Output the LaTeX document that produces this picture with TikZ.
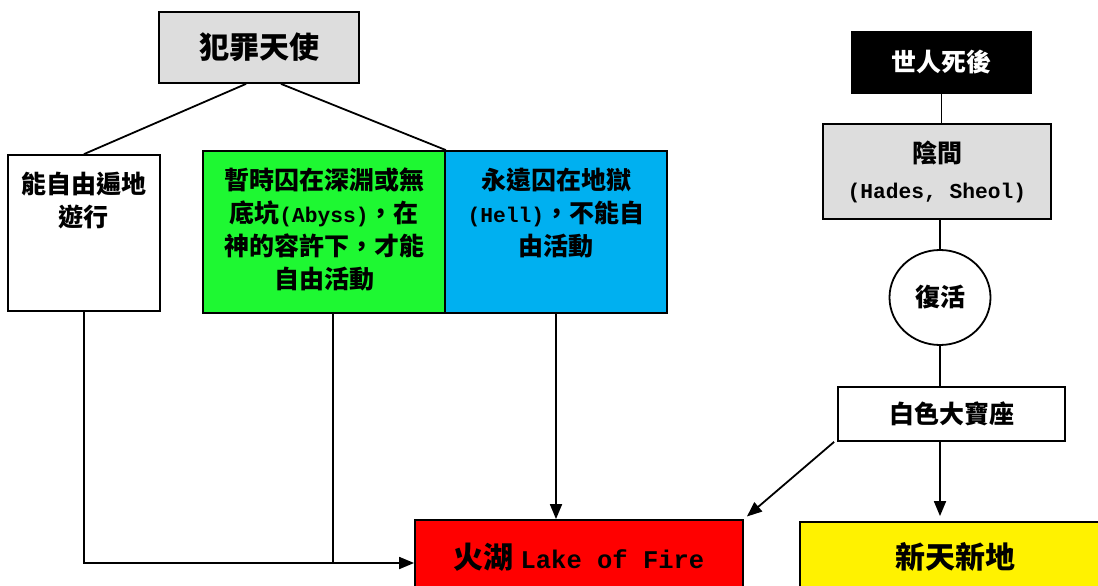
\documentclass[tikz,border=0pt]{standalone}
\usepackage{fontspec}
\setmainfont{Noto Sans CJK TC}
\newfontfamily\monofont[Scale=0.85]{Liberation Mono}
\usetikzlibrary{shapes.geometric, arrows.meta}

\definecolor{boxgray}{HTML}{DDDDDD}
\definecolor{abyssgreen}{HTML}{1EF832}
\definecolor{hellblue}{HTML}{00B0F0}

\newcommand{\eng}[1]{{\monofont #1}}
\newcommand{\topbox}[3]{\parbox[t][#2][t]{#1}{\centering\vspace*{17pt}#3}}

\begin{document}
\begin{tikzpicture}[x = 1pt, y = -1pt, % pixel units, y grows downwards
                >={Triangle[length=15pt, width=12pt]}, % arrow head style
                line width = 1.8pt, % line style
                font = \fontsize{25}{33}\selectfont\bfseries
            ]

            \tikzstyle{every node}=[draw = black, rectangle, inner sep = 0pt,
            line width = 1.8pt, align = center]
            \tikzstyle{big}=[font = \fontsize{30}{36}\selectfont\bfseries]

            \useasboundingbox (0,0) rectangle (1098,586);
            \clip (0,0) rectangle (1098,586);

            % fallen angels
            \node (fallen) [big, fill = boxgray, minimum width = 200pt,
            minimum height = 71pt] at (259,47.5) {犯罪天使};
            \node (free) at (84,233) {\topbox{152pt}{156pt}{能自由遍地\\遊行}};
            \node (abyss) [fill = abyssgreen] at (324,232)
            {\topbox{242pt}{162pt}{暫時囚在深淵或無\\底坑\eng{(Abyss)}，在\\神的容許下，才能\\自由活動}};
            \node (hell) [fill = hellblue] at (556,232)
            {\topbox{222pt}{162pt}{永遠囚在地獄\\\eng{(Hell)}，不能自\\由活動}};

            % men after death
            \node (death) [fill = black, text = white, minimum width = 179pt,
            minimum height = 61pt] at (941.5,62.5) {世人死後};
            \node (hades) [fill = boxgray, minimum width = 228pt,
            minimum height = 95pt, font = \fontsize{25}{36}\selectfont\bfseries]
            at (937,171.5) {陰間\\\eng{(Hades, Sheol)}};
            \node (rise) [ellipse, minimum width = 101pt, minimum height = 95pt]
            at (940,297.5) {復活};
            \node (throne) [minimum width = 227pt, minimum height = 54pt]
            at (951.5,414) {白色大寶座};

            % the ends
            \node (lake) [big, fill = red, minimum width = 328pt,
            minimum height = 74pt] at (579,557) {火湖 \eng{Lake of Fire}};
            \node (newearth) [big, fill = yellow, minimum width = 310pt,
            minimum height = 70pt] at (955,557) {新天新地};

            \coordinate (bend) at ([yshift=-6pt]lake.west);

            \draw ([xshift=-13pt]fallen.south) -- (free.north);
            \draw ([xshift=22pt]fallen.south) -- (abyss.north east);
            \draw[->] (free.south) |- (bend);
            \draw ([xshift=9pt]abyss.south) -- ([xshift=9pt]abyss.south |- bend);
            \draw[->] (hell.south) -- (hell.south |- lake.north);

            \draw (death.south) -- (death.south |- hades.north);
            \draw (rise.north |- hades.south) -- (rise.north);
            \draw (rise.south) -- (rise.south |- throne.north);
            \draw[->, shorten > = 5pt] (rise.south |- throne.south)
            -- (rise.south |- newearth.north);
            \draw[->, shorten > = 4pt] ([xshift=-3pt]throne.south west)
            -- (lake.north east);
\end{tikzpicture}
\end{document}
